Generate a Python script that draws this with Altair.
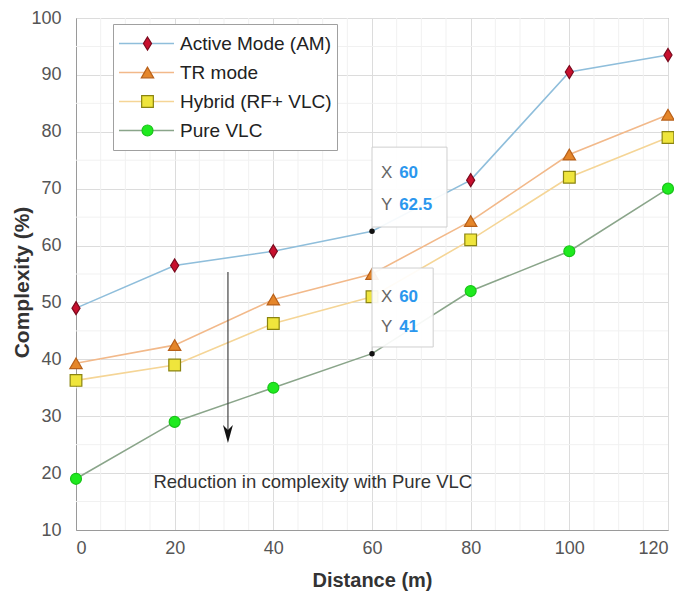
import altair as alt
import pandas as pd

# ---------------- data ----------------
distance = [0, 20, 40, 60, 80, 100, 120]
series_names = ["Active Mode (AM)", "TR mode", "Hybrid (RF+ VLC)", "Pure VLC"]
am = [49, 56.5, 59, 62.5, 71.5, 90.5, 93.5]
tr = [39.3, 42.5, 50.5, 55, 64.3, 76, 83]
hybrid = [36.3, 39, 46.3, 51, 61, 72, 79]
pure = [19, 29, 35, 41, 52, 59, 70]

line_colors = ["#8fbedb", "#f2b98a", "#f5d596", "#8aa58a"]
marker_fill = ["#c8102e", "#e5862a", "#efe53c", "#1fea1f"]
marker_edge = ["#7a0a1e", "#b8601a", "#8a8410", "#19c419"]
marker_shapes = ["M0,-1L0.62,0L0,1L-0.62,0Z", "triangle-up", "square", "circle"]
marker_sizes = [170, 120, 60, 135]

x_ticks = [0, 20, 40, 60, 80, 100, 120]
y_ticks = [10, 20, 30, 40, 50, 60, 70, 80, 90, 100]
x_minor = [5, 10, 15, 25, 30, 35, 45, 50, 55, 65, 70, 75, 85, 90, 95, 105, 110, 115]
y_minor = [15, 25, 35, 45, 55, 65, 75, 85, 95]

# datatips
tip_series = ["Active Mode (AM)", "Pure VLC"]
tip_x = [60, 60]
tip_y = [62.5, 41]
tip_xval = ["60", "60"]
tip_yval = ["62.5", "41"]
tip_box_right = [75.2, 72.4]
tip_box_top = [77.3, 56.05]
tip_box_bottom = [63.26, 42.17]
tip_xrow = [72.75, 50.96]
tip_yrow = [67.1, 45.7]
tip_label_x = 61.8
tip_value_x = 65.5

# arrow + note
arrow_x = [30.8]
arrow_top = [55.35]
arrow_bottom = [27.6]
arrow_head_y = [26.87]
note_text = ["Reduction in complexity with Pure VLC"]
note_x = [48]
note_y = [18.5]

FONT = "Liberation Sans"

# ---------------- frames ----------------
rows = []
for name, vals in zip(series_names, [am, tr, hybrid, pure]):
    for d, v in zip(distance, vals):
        rows.append({"distance": d, "value": v, "series": name, "marker": name})
df = pd.DataFrame(rows)
tip_keys = set(zip(tip_series, tip_x))
df_pts = df[[(s, d) not in tip_keys for s, d in zip(df["series"], df["distance"])]]

xs = alt.Scale(domain=[0, 120], nice=False, zero=False)
ys = alt.Scale(domain=[10, 100], nice=False, zero=False)

xaxis = alt.Axis(values=x_ticks, title="Distance (m)", grid=True, gridColor="#dcdcdc",
                 labelFontSize=18, labelColor="#555555", labelFont=FONT,
                 titleFont=FONT, titleFontSize=20, titleFontWeight="bold", titleColor="#333333",
                 domainColor="#9a9a9a", tickSize=0, labelPadding=9,
                 titlePadding=13, format="d")
yaxis = alt.Axis(values=y_ticks, title="Complexity (%)", grid=True, gridColor="#dcdcdc",
                 labelFontSize=18, labelColor="#555555", labelFont=FONT,
                 titleFont=FONT, titleFontSize=21, titleFontWeight="bold", titleColor="#333333",
                 domainColor="#9a9a9a", tickSize=0, labelPadding=15,
                 titleX=-54, titleY=264, titleAnchor="middle", titleAlign="center",
                 titleBaseline="middle", titleAngle=270, format="d")

minor_x = alt.Chart(pd.DataFrame({"v": x_minor})).mark_rule(color="#f1f1f1", strokeWidth=1).encode(
    x=alt.X("v:Q", scale=xs, axis=xaxis))
minor_y = alt.Chart(pd.DataFrame({"v": y_minor})).mark_rule(color="#f1f1f1", strokeWidth=1).encode(
    y=alt.Y("v:Q", scale=ys, axis=yaxis))

lines = alt.Chart(df).mark_line(strokeWidth=1.6).encode(
    x=alt.X("distance:Q", scale=xs, axis=xaxis),
    y=alt.Y("value:Q", scale=ys, axis=yaxis),
    color=alt.Color("series:N", sort=series_names,
                    scale=alt.Scale(domain=series_names, range=line_colors),
                    legend=alt.Legend(title=None, orient="none", legendX=37, legendY=6,
                                      symbolType="stroke", symbolSize=3025, symbolStrokeWidth=1.6,
                                      labelFontSize=19, labelFont=FONT, labelColor="#222222",
                                      clipHeight=29, rowPadding=0, padding=5, labelOffset=5,
                                      fillColor="white", strokeColor="#a0a0a0",
                                      labelLimit=300)),
    detail="series:N",
)

pts_legend = alt.Legend(title=None, orient="none", legendX=57, legendY=6,
                        labelExpr="''", labelFontSize=19, labelFont=FONT,
                        clipHeight=29, rowPadding=0, padding=5,
                        symbolStrokeWidth=1.2, symbolOpacity=1)
points = alt.Chart(df_pts).mark_point(filled=True, opacity=1, strokeWidth=1.2).encode(
    x=alt.X("distance:Q", scale=xs),
    y=alt.Y("value:Q", scale=ys),
    fill=alt.Fill("marker:N", scale=alt.Scale(domain=series_names, range=marker_fill), legend=pts_legend),
    stroke=alt.Stroke("marker:N", scale=alt.Scale(domain=series_names, range=marker_edge), legend=pts_legend),
    shape=alt.Shape("marker:N", scale=alt.Scale(domain=series_names, range=marker_shapes), legend=pts_legend),
    size=alt.Size("marker:N", scale=alt.Scale(domain=series_names, range=marker_sizes), legend=pts_legend),
)

tips = pd.DataFrame({"x": tip_x, "y": tip_y, "bright": tip_box_right, "top": tip_box_top,
                     "bottom": tip_box_bottom, "xrow": tip_xrow, "yrow": tip_yrow,
                     "lx": [tip_label_x] * 2, "vx": [tip_value_x] * 2,
                     "xval": tip_xval, "yval": tip_yval})

tip_link = alt.Chart(tips).mark_rule(color="#c8c8c8", strokeWidth=1).encode(
    x=alt.X("x:Q", scale=xs), y=alt.Y("bottom:Q", scale=ys), y2="y:Q")
tip_box = alt.Chart(tips).mark_rect(fill="white", fillOpacity=0.92, stroke="#cfcfcf", strokeWidth=1).encode(
    x=alt.X("x:Q", scale=xs), x2="bright:Q", y=alt.Y("top:Q", scale=ys), y2="bottom:Q")
tip_dot = alt.Chart(tips).mark_point(filled=True, size=30, color="#111111", opacity=1).encode(
    x=alt.X("x:Q", scale=xs), y=alt.Y("y:Q", scale=ys))
tip_lx = alt.Chart(tips).mark_text(align="left", baseline="middle", fontSize=17, font=FONT, color="#666666").encode(
    x=alt.X("lx:Q", scale=xs), y=alt.Y("xrow:Q", scale=ys), text=alt.value("X"))
tip_ly = alt.Chart(tips).mark_text(align="left", baseline="middle", fontSize=17, font=FONT, color="#666666").encode(
    x=alt.X("lx:Q", scale=xs), y=alt.Y("yrow:Q", scale=ys), text=alt.value("Y"))
tip_vx = alt.Chart(tips).mark_text(align="left", baseline="middle", fontSize=17, font=FONT, fontWeight="bold",
                                   color="#2b97ee").encode(
    x=alt.X("vx:Q", scale=xs), y=alt.Y("xrow:Q", scale=ys), text="xval:N")
tip_vy = alt.Chart(tips).mark_text(align="left", baseline="middle", fontSize=17, font=FONT, fontWeight="bold",
                                   color="#2b97ee").encode(
    x=alt.X("vx:Q", scale=xs), y=alt.Y("yrow:Q", scale=ys), text="yval:N")

arrow_df = pd.DataFrame({"x": arrow_x, "top": arrow_top, "bottom": arrow_bottom, "head": arrow_head_y})
arrow_line = alt.Chart(arrow_df).mark_rule(color="#444444", strokeWidth=1.2).encode(
    x=alt.X("x:Q", scale=xs), y=alt.Y("top:Q", scale=ys), y2="bottom:Q")
arrow_head = alt.Chart(arrow_df).mark_point(
    shape="M-0.55,-1L0,1L0.55,-1L0,-0.45Z", filled=True, size=324, color="#111111", opacity=1).encode(
    x=alt.X("x:Q", scale=xs), y=alt.Y("head:Q", scale=ys))

note_df = pd.DataFrame({"x": note_x, "y": note_y, "t": note_text})
note = alt.Chart(note_df).mark_text(fontSize=18.5, font=FONT, color="#333333", baseline="middle").encode(
    x=alt.X("x:Q", scale=xs), y=alt.Y("y:Q", scale=ys), text="t:N")

chart = alt.layer(
    minor_x, minor_y, lines, points, tip_link, tip_box, tip_dot, tip_lx, tip_ly, tip_vx, tip_vy,
    arrow_line, arrow_head, note
).resolve_scale(
    color="independent", fill="independent", stroke="independent", shape="independent",
    size="independent"
).properties(
    width=592, height=512,
    autosize=alt.AutoSizeParams(type="none"),
    padding={"left": 68, "top": 10, "right": 6, "bottom": 66},
).configure_view(
    stroke="#9a9a9a", strokeWidth=1
)

chart.save("out.html", embed_options={"renderer": "svg", "actions": False})
